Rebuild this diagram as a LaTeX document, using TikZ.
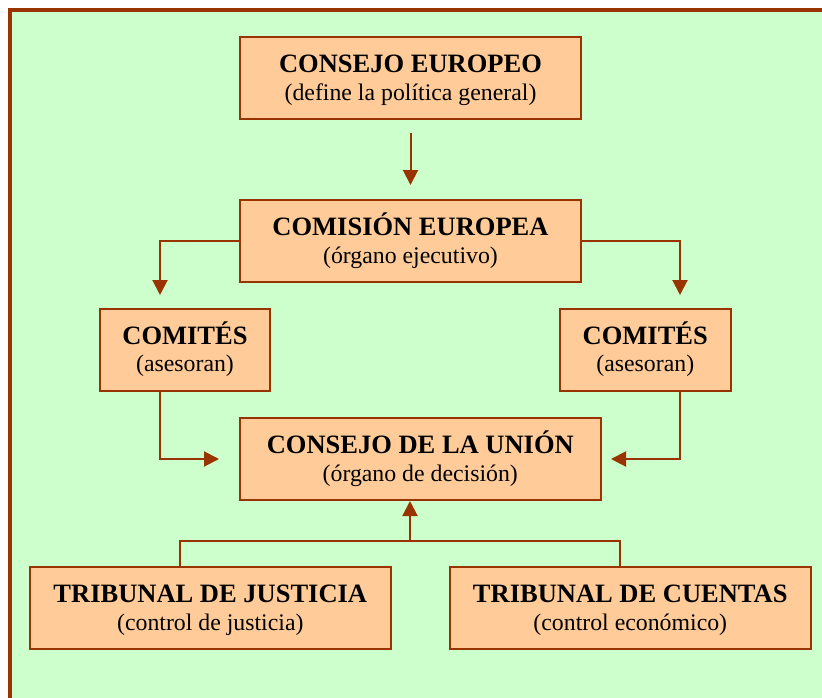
\documentclass[tikz,border=0pt]{standalone}
\usepackage{fontspec}
\setmainfont{Liberation Serif}
\usetikzlibrary{arrows.meta,calc}
\definecolor{brd}{HTML}{993300}
\definecolor{boxfill}{HTML}{FFCC99}
\definecolor{bg}{HTML}{CCFFCC}
\newcommand{\myttlfont}{\fontsize{26.5}{30}\selectfont\bfseries}
\newcommand{\mysubfont}{\fontsize{23.8}{28}\selectfont}
\newcommand{\orgbox}[6]{%
  \node[box,minimum width=#4pt,minimum height=82pt] (#1) at (#2,#3) {};
  \node[ttl] (#1t) at ($(#1.center)+(0,-5.5)$) {#5};
  \node[sub] (#1s) at ($(#1.center)+(0,22)$) {#6};}
\begin{document}
\begin{tikzpicture}[x=1pt,y=-1pt,
  box/.style={draw=brd,fill=boxfill,line width=2pt,inner sep=0pt},
  ttl/.style={anchor=base,inner sep=0pt,font=\myttlfont},
  sub/.style={anchor=base,inner sep=0pt,font=\mysubfont},
  conn/.style={draw=brd,line width=2pt},
  arr/.style={conn,-{Triangle[length=15pt,width=15pt]}}]
\useasboundingbox (0,0) rectangle (822,697);
\fill[white] (0,0) rectangle (822,697);
\begin{scope}
  \clip (0,0) rectangle (822,697);
  \draw[brd,fill=bg,line width=4pt] (10,10) rectangle (900,800);
\end{scope}

\orgbox{ce}{410.5}{78}{341}{CONSEJO EUROPEO}{(define la política general)}
\orgbox{com}{410.5}{241}{341}{COMISIÓN EUROPEA}{(órgano ejecutivo)}
\orgbox{cl}{185}{349.5}{170}{COMITÉS}{(asesoran)}
\orgbox{cr}{645.3}{349.5}{171}{COMITÉS}{(asesoran)}
\orgbox{cu}{420.3}{459}{361}{CONSEJO DE LA UNIÓN}{(órgano de decisión)}
\orgbox{tj}{210.3}{608}{361}{TRIBUNAL DE JUSTICIA}{(control de justicia)}
\orgbox{tc}{630.3}{608}{361}{TRIBUNAL DE CUENTAS}{(control económico)}

\coordinate (clin) at (160,295);
\coordinate (crin) at (680,295);
\coordinate (cuinl) at (219,459);
\coordinate (cuinr) at (611,459);
\coordinate (jn) at (410,540.5);

\draw[arr,shorten <=13pt,shorten >=14pt] (ce) -- (com);
\draw[arr] (com.west) -| (clin);
\draw[arr] (com.east) -| (crin);
\draw[arr] (clin |- cl.south) |- (cuinl);
\draw[arr] (crin |- cr.south) |- (cuinr);
\draw[conn] ($(tj.north)+(-30.3,0)$) |- (jn) -| ($(tc.north)+(-10.3,0)$);
\draw[arr] (jn) -- (jn |- cu.south);
\end{tikzpicture}
\end{document}
